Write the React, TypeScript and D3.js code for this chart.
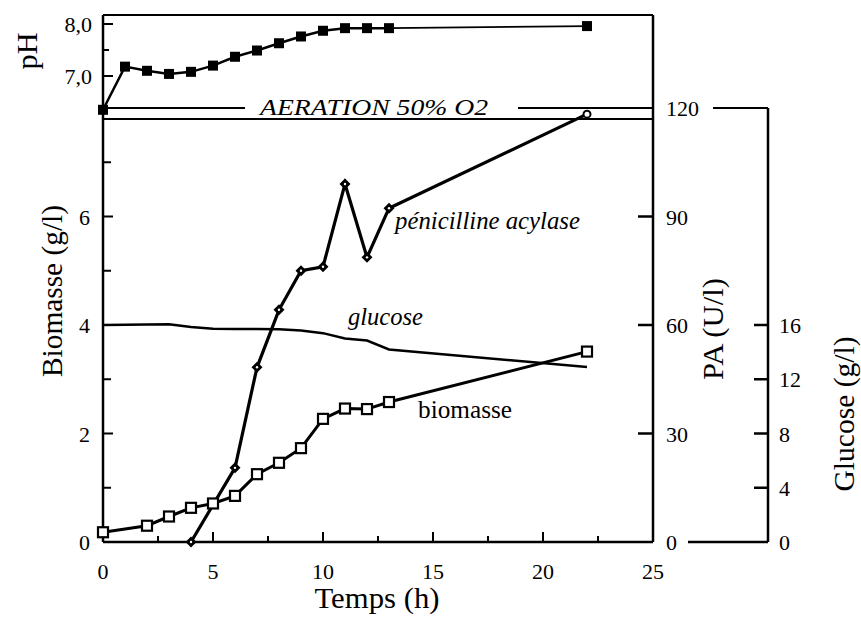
import React from "react";
import * as d3 from "d3";

// pH (top panel)
const phTimes = [0, 1, 2, 3, 4, 5, 6, 7, 8, 9, 10, 11, 12, 13, 22];
const phValues = [6.35, 7.18, 7.1, 7.04, 7.08, 7.2, 7.37, 7.49, 7.63, 7.76, 7.87, 7.92, 7.92, 7.92, 7.96];

// Biomasse (g/l)
const bioTimes = [0, 2, 3, 4, 5, 6, 7, 8, 9, 10, 11, 12, 13, 22];
const bioValues = [0.18, 0.3, 0.47, 0.63, 0.71, 0.85, 1.25, 1.46, 1.73, 2.27, 2.46, 2.45, 2.58, 3.51];

// Pénicilline acylase (U/l)
const paTimes = [4, 6, 7, 8, 9, 10, 11, 12, 13, 22];
const paValues = [0, 20.5, 48.3, 64.2, 75, 76.1, 99, 78.7, 92.3, 118.3];

// Glucose (g/l)
const gluTimes = [0, 3, 4, 5, 6, 7, 8, 9, 10, 11, 12, 13, 22];
const gluValues = [16.0, 16.05, 15.85, 15.72, 15.7, 15.7, 15.68, 15.6, 15.4, 15.0, 14.85, 14.2, 12.9];

// tick labels
const xTicks = [0, 5, 10, 15, 20, 25];
const xMinorTicks = [2.5, 7.5, 12.5, 17.5, 22.5];
const bioTicks = [0, 2, 4, 6];
const bioMinorTicks = [1, 3, 5, 7];
const phTicks = [7, 8];
const phTickLabels = ["7,0", "8,0"];
const phMinorTicks = [7.5];
const paTicks = [0, 30, 60, 90, 120];
const gluTicks = [0, 4, 8, 12, 16];

const FONT = "'Liberation Serif', 'Times New Roman', serif";

export default function App() {
  const W = 861;
  const H = 619;
  const x = d3.scaleLinear().domain([0, 25]).range([103, 653]);
  const yBio = d3.scaleLinear().domain([0, 8]).range([542, 108]);
  const yPA = d3.scaleLinear().domain([0, 120]).range([542, 108]);
  const yGlu = d3.scaleLinear().domain([0, 32]).range([542, 108]);
  const yPH = d3.scaleLinear().domain([7, 8]).range([76, 24]);

  const line = d3.line<[number, number]>().x((d) => d[0]).y((d) => d[1]);

  const phPts: [number, number][] = phTimes.map((t, i) => [x(t), yPH(phValues[i])]);
  const bioPts: [number, number][] = bioTimes.map((t, i) => [x(t), yBio(bioValues[i])]);
  const paPts: [number, number][] = paTimes.map((t, i) => [x(t), yPA(paValues[i])]);
  const gluPts: [number, number][] = gluTimes.map((t, i) => [x(t), yGlu(gluValues[i])]);

  const x0 = x(0);
  const x1 = x(25);
  const yTop = 15;
  const yBottom = yBio(0);
  const gluAxisX = 768;
  const axisW = 2.5;

  return (
    <svg
      width={W}
      height={H}
      viewBox={`0 0 ${W} ${H}`}
      style={{ position: "absolute", left: 0, top: 0, background: "#fff" }}
      fontFamily={FONT}
    >
      <rect x={0} y={0} width={W} height={H} fill="#fff" />

      {/* frame: left axis, top, right PA axis, bottom */}
      <line x1={x0} y1={yTop} x2={x0} y2={yBottom} stroke="#000" strokeWidth={axisW} />
      <line x1={x0} y1={yTop} x2={x1} y2={yTop} stroke="#000" strokeWidth={2} />
      <line x1={x1} y1={yTop} x2={x1} y2={yBottom} stroke="#000" strokeWidth={axisW} />
      <line x1={x0} y1={yBottom} x2={x1} y2={yBottom} stroke="#000" strokeWidth={axisW} />

      {/* pH panel separation lines */}
      <line x1={x0} y1={108} x2={245} y2={108} stroke="#000" strokeWidth={2} />
      <line x1={518} y1={108} x2={x1} y2={108} stroke="#000" strokeWidth={2} />
      <line x1={x0} y1={119} x2={x1} y2={119} stroke="#000" strokeWidth={1.8} />
      <text
        x={260}
        y={115}
        fontSize={23}
        fontStyle="italic"
        textLength={228}
        lengthAdjust="spacingAndGlyphs"
      >
        AERATION 50% O2
      </text>

      {/* x axis ticks */}
      {xTicks.filter((t) => t > 0 && t < 25).map((t) => (
        <line key={"xt" + t} x1={x(t)} y1={yBottom} x2={x(t)} y2={yBottom - 10} stroke="#000" strokeWidth={2} />
      ))}
      {xMinorTicks.map((t) => (
        <line key={"xm" + t} x1={x(t)} y1={yBottom} x2={x(t)} y2={yBottom - 6} stroke="#000" strokeWidth={2} />
      ))}
      {xTicks.map((t) => (
        <text key={"xl" + t} x={x(t)} y={579} fontSize={22} textAnchor="middle">
          {t}
        </text>
      ))}
      <text x={377} y={608} fontSize={29} textAnchor="middle" textLength={125} lengthAdjust="spacingAndGlyphs">
        Temps (h)
      </text>

      {/* biomass axis */}
      {bioTicks.filter((t) => t > 0).map((t) => (
        <line key={"bt" + t} x1={x0} y1={yBio(t)} x2={x0 + 10} y2={yBio(t)} stroke="#000" strokeWidth={2} />
      ))}
      {bioMinorTicks.map((t) => (
        <line key={"bm" + t} x1={x0} y1={yBio(t)} x2={x0 + 8} y2={yBio(t)} stroke="#000" strokeWidth={2} />
      ))}
      {bioTicks.map((t) => (
        <text key={"bl" + t} x={90} y={yBio(t) + 8} fontSize={22} textAnchor="end">
          {t}
        </text>
      ))}
      <text
        transform={`translate(62, 291) rotate(-90)`}
        fontSize={29}
        textAnchor="middle"
        textLength={172}
        lengthAdjust="spacingAndGlyphs"
      >
        Biomasse (g/l)
      </text>

      {/* pH axis */}
      {phTicks.map((t) => (
        <line key={"pt" + t} x1={x0} y1={yPH(t)} x2={x0 + 10} y2={yPH(t)} stroke="#000" strokeWidth={2} />
      ))}
      {phMinorTicks.map((t) => (
        <line key={"pm" + t} x1={x0} y1={yPH(t)} x2={x0 + 6} y2={yPH(t)} stroke="#000" strokeWidth={2} />
      ))}
      {phTicks.map((t, i) => (
        <text key={"pl" + t} x={92} y={yPH(t) + 8} fontSize={22} textAnchor="end">
          {phTickLabels[i]}
        </text>
      ))}
      <text
        transform={`translate(37, 51) rotate(-90)`}
        fontSize={29}
        textAnchor="middle"
        textLength={37}
        lengthAdjust="spacingAndGlyphs"
      >
        pH
      </text>

      {/* PA axis (right) */}
      {paTicks.filter((t) => t > 0 && t < 120).map((t) => (
        <line key={"at" + t} x1={x1 - 15} y1={yPA(t)} x2={x1} y2={yPA(t)} stroke="#000" strokeWidth={2.5} />
      ))}
      {paTicks.map((t) => (
        <text key={"al" + t} x={666} y={yPA(t) + 8} fontSize={22} textAnchor="start">
          {t}
        </text>
      ))}
      <text
        transform={`translate(723, 329) rotate(-90)`}
        fontSize={29}
        textAnchor="middle"
        textLength={102}
        lengthAdjust="spacingAndGlyphs"
      >
        PA (U/l)
      </text>

      {/* Glucose axis (far right) */}
      <line x1={713} y1={yGlu(32)} x2={gluAxisX} y2={yGlu(32)} stroke="#000" strokeWidth={2} />
      <line x1={gluAxisX} y1={yGlu(32)} x2={gluAxisX} y2={yGlu(0)} stroke="#000" strokeWidth={axisW} />
      <line x1={688} y1={yGlu(0)} x2={gluAxisX} y2={yGlu(0)} stroke="#000" strokeWidth={axisW} />
      {gluTicks.filter((t) => t > 0).map((t) => (
        <line key={"gt" + t} x1={gluAxisX - 14} y1={yGlu(t)} x2={gluAxisX} y2={yGlu(t)} stroke="#000" strokeWidth={2.5} />
      ))}
      {gluTicks.map((t) => (
        <text key={"gl" + t} x={779} y={yGlu(t) + 8} fontSize={22} textAnchor="start">
          {t}
        </text>
      ))}
      <text
        transform={`translate(854, 414) rotate(-90)`}
        fontSize={29}
        textAnchor="middle"
        textLength={155}
        lengthAdjust="spacingAndGlyphs"
      >
        Glucose (g/l)
      </text>

      {/* glucose line */}
      <path d={line(gluPts) || ""} fill="none" stroke="#000" strokeWidth={2.5} />

      {/* pH line */}
      <path d={line(phPts.slice(0, 14)) || ""} fill="none" stroke="#000" strokeWidth={2.5} />
      <path d={line(phPts.slice(13)) || ""} fill="none" stroke="#000" strokeWidth={1.6} />
      {phPts.map((p, i) => (
        <rect key={"ph" + i} x={p[0] - 5} y={p[1] - 5} width={10} height={10} fill="#000" />
      ))}

      {/* penicillin acylase line */}
      <path d={line(paPts) || ""} fill="none" stroke="#000" strokeWidth={3.2} />
      {paPts.map((p, i) =>
        i === paPts.length - 1 ? (
          <circle key={"pa" + i} cx={p[0]} cy={p[1]} r={3.5} fill="#fff" stroke="#000" strokeWidth={2} />
        ) : (
          <g key={"pa" + i}>
            <path
              d={`M${p[0]},${p[1] - 5.5}L${p[0] + 5.5},${p[1]}L${p[0]},${p[1] + 5.5}L${p[0] - 5.5},${p[1]}Z`}
              fill="#000"
            />
            <circle cx={p[0]} cy={p[1]} r={1.2} fill="#fff" />
          </g>
        )
      )}

      {/* biomass line */}
      <path d={line(bioPts) || ""} fill="none" stroke="#000" strokeWidth={3} />
      {bioPts.map((p, i) => (
        <rect key={"bio" + i} x={p[0] - 5} y={p[1] - 5} width={10} height={10} fill="#fff" stroke="#000" strokeWidth={2.2} />
      ))}

      {/* series labels */}
      <text x={395} y={229} fontSize={25} fontStyle="italic" textLength={185} lengthAdjust="spacingAndGlyphs">
        pénicilline acylase
      </text>
      <text x={348} y={325} fontSize={24.5} fontStyle="italic" textLength={75} lengthAdjust="spacingAndGlyphs">
        glucose
      </text>
      <text x={418} y={418} fontSize={25} textLength={94} lengthAdjust="spacingAndGlyphs">
        biomasse
      </text>
    </svg>
  );
}
